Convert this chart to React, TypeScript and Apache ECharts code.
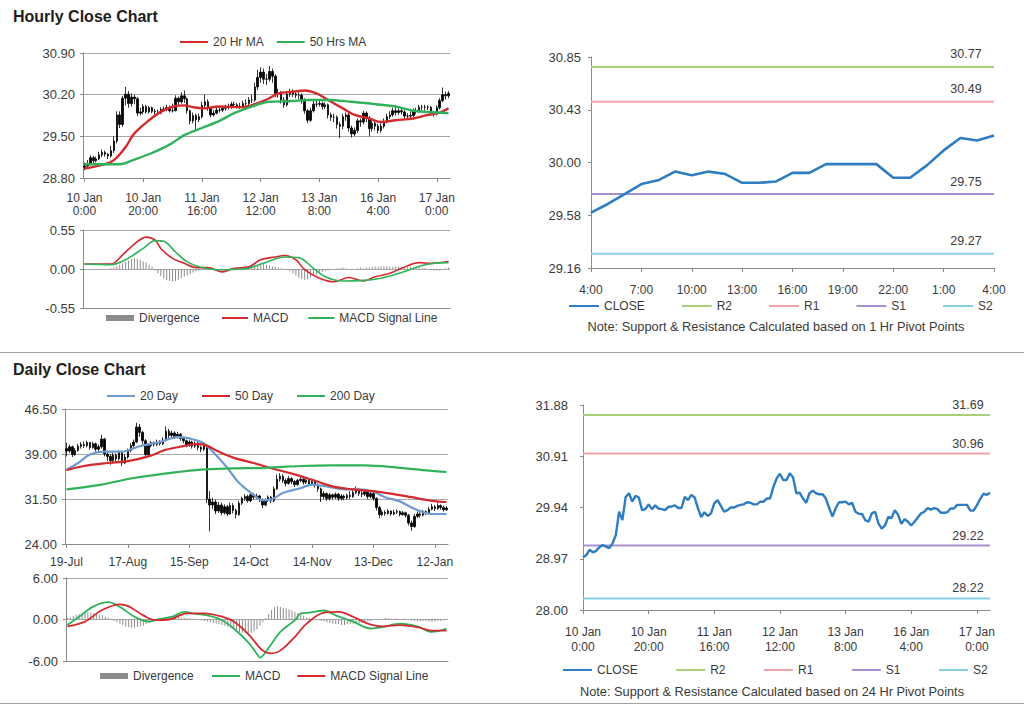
import React, { useEffect, useRef } from "react";
import * as echarts from "echarts";

// ---------------- HOURLY DATA (10 Jan 0:00 .. 17 Jan 4:00, 125 hours) ----------------
const hourlyTickLabels = ["10 Jan\n0:00", "10 Jan\n20:00", "11 Jan\n16:00", "12 Jan\n12:00", "13 Jan\n8:00", "16 Jan\n4:00", "17 Jan\n0:00"];

const hourlyOpen = [
  28.98, 29.00, 29.04, 29.14, 29.09, 29.12, 29.19, 29.23, 29.20, 29.17,
  29.26, 29.42, 29.86, 29.70, 30.14, 30.21, 30.05, 30.16, 30.13, 29.89,
  29.91, 30.00, 29.91, 29.98, 29.92, 29.91, 29.89, 29.95, 29.96, 29.98,
  29.93, 29.93, 30.14, 30.08, 30.18, 30.13, 29.93, 29.76, 29.85, 29.78,
  29.83, 30.02, 30.08, 29.97, 29.86, 29.89, 29.94, 29.94, 29.97, 29.99,
  30.00, 30.04, 30.03, 30.00, 30.00, 30.05, 30.05, 30.11, 30.11, 30.33,
  30.49, 30.58, 30.46, 30.46, 30.59, 30.51, 30.21, 30.22, 30.11, 30.03,
  30.21, 30.26, 30.21, 30.19, 30.19, 30.11, 29.93, 29.77, 29.93, 30.04,
  30.04, 30.05, 30.00, 30.03, 29.86, 29.82, 29.82, 29.70, 29.67, 29.83,
  29.86, 29.64, 29.54, 29.60, 29.76, 29.74, 29.89, 29.80, 29.63, 29.72,
  29.67, 29.60, 29.67, 29.75, 29.83, 29.86, 29.93, 29.90, 29.93, 29.91,
  29.84, 29.84, 29.85, 29.92, 29.92, 29.99, 29.99, 29.99, 29.99, 29.88,
  29.88, 29.98, 30.10, 30.20, 30.18,
];
const hourlyClose = [
  29.00, 29.04, 29.14, 29.09, 29.12, 29.19, 29.23, 29.20, 29.17, 29.26,
  29.42, 29.86, 29.70, 30.14, 30.21, 30.05, 30.16, 30.13, 29.89, 29.91,
  30.00, 29.91, 29.98, 29.92, 29.91, 29.89, 29.95, 29.96, 29.98, 29.93,
  29.93, 30.14, 30.08, 30.18, 30.13, 29.93, 29.76, 29.85, 29.78, 29.83,
  30.02, 30.08, 29.97, 29.86, 29.89, 29.94, 29.94, 29.97, 29.99, 30.00,
  30.04, 30.03, 30.00, 30.00, 30.05, 30.05, 30.11, 30.11, 30.33, 30.49,
  30.58, 30.46, 30.46, 30.59, 30.51, 30.21, 30.22, 30.11, 30.03, 30.21,
  30.26, 30.21, 30.19, 30.19, 30.11, 29.93, 29.77, 29.93, 30.04, 30.04,
  30.05, 30.00, 30.03, 29.86, 29.82, 29.82, 29.70, 29.67, 29.83, 29.86,
  29.64, 29.54, 29.60, 29.76, 29.74, 29.89, 29.80, 29.63, 29.72, 29.67,
  29.60, 29.67, 29.75, 29.83, 29.86, 29.93, 29.90, 29.93, 29.91, 29.84,
  29.84, 29.85, 29.92, 29.92, 29.99, 29.99, 29.99, 29.99, 29.88, 29.88,
  29.98, 30.10, 30.20, 30.18, 30.22,
];
const hourlyLow = [
  28.93, 28.97, 29.01, 29.05, 29.06, 29.10, 29.15, 29.16, 29.12, 29.14,
  29.22, 29.38, 29.64, 29.66, 30.02, 29.98, 30.00, 30.04, 29.84, 29.85,
  29.87, 29.88, 29.88, 29.89, 29.87, 29.86, 29.87, 29.91, 29.92, 29.90,
  29.90, 29.92, 30.02, 30.05, 30.06, 29.88, 29.70, 29.72, 29.60, 29.74,
  29.80, 29.98, 29.93, 29.82, 29.83, 29.87, 29.90, 29.91, 29.93, 29.95,
  29.96, 29.98, 29.97, 29.96, 29.97, 30.01, 30.02, 30.06, 30.08, 30.28,
  30.40, 30.38, 30.36, 30.42, 30.40, 30.16, 30.15, 30.05, 29.98, 30.00,
  30.16, 30.16, 30.14, 30.12, 30.05, 29.88, 29.72, 29.74, 29.90, 29.99,
  30.00, 29.95, 29.96, 29.80, 29.76, 29.74, 29.63, 29.47, 29.62, 29.76,
  29.58, 29.48, 29.50, 29.56, 29.66, 29.70, 29.74, 29.50, 29.58, 29.60,
  29.55, 29.56, 29.63, 29.72, 29.79, 29.83, 29.85, 29.86, 29.87, 29.80,
  29.79, 29.80, 29.82, 29.87, 29.89, 29.94, 29.93, 29.94, 29.84, 29.83,
  29.85, 29.95, 30.07, 30.12, 30.14,
];
const hourlyHigh = [
  29.06, 29.10, 29.18, 29.17, 29.16, 29.24, 29.28, 29.26, 29.22, 29.34,
  29.50, 29.92, 29.92, 30.18, 30.33, 30.26, 30.22, 30.20, 30.16, 29.98,
  30.04, 30.03, 30.01, 30.00, 29.96, 29.95, 29.99, 30.00, 30.03, 30.02,
  30.05, 30.19, 30.17, 30.24, 30.27, 30.15, 29.95, 29.90, 29.88, 29.88,
  30.08, 30.20, 30.12, 29.99, 29.94, 29.98, 29.99, 30.01, 30.03, 30.05,
  30.08, 30.08, 30.06, 30.06, 30.10, 30.12, 30.16, 30.20, 30.40, 30.62,
  30.66, 30.64, 30.55, 30.68, 30.64, 30.54, 30.30, 30.26, 30.16, 30.26,
  30.30, 30.29, 30.25, 30.24, 30.22, 30.14, 29.96, 29.98, 30.09, 30.10,
  30.10, 30.08, 30.07, 30.05, 29.90, 29.88, 29.85, 29.74, 29.88, 29.90,
  29.89, 29.68, 29.65, 29.80, 29.80, 29.93, 29.92, 29.84, 29.77, 29.76,
  29.71, 29.72, 29.80, 29.88, 29.92, 29.98, 30.03, 29.97, 29.96, 29.94,
  29.89, 29.92, 29.97, 29.98, 30.03, 30.03, 30.03, 30.02, 30.01, 29.93,
  30.02, 30.14, 30.32, 30.25, 30.26,
];
// moving averages and MACD: [hour index, value] key points
const hourlyMa20 = [[0, 28.96], [6, 29.02], [10, 29.10], [14, 29.32], [17, 29.55], [22, 29.77], [26, 29.91], [31, 30.01], [34, 30.02], [37, 29.99], [40, 29.97], [46, 30.00], [54, 29.99], [58, 30.04], [63, 30.14], [66, 30.22], [71, 30.25], [75, 30.27], [79, 30.22], [83, 30.11], [88, 29.97], [92, 29.86], [97, 29.80], [101, 29.74], [106, 29.77], [112, 29.80], [117, 29.86], [121, 29.90], [124, 29.97]];
const hourlyMa50 = [[0, 29.03], [12, 29.03], [17, 29.11], [23, 29.22], [29, 29.36], [34, 29.52], [40, 29.64], [46, 29.76], [51, 29.89], [57, 30.00], [63, 30.08], [70, 30.09], [76, 30.11], [83, 30.11], [91, 30.08], [99, 30.04], [106, 30.00], [112, 29.93], [117, 29.91], [124, 29.89]];
const hourlyMacd = [[0, 0.07], [9, 0.07], [13, 0.20], [17, 0.35], [21, 0.45], [24, 0.41], [26, 0.29], [30, 0.15], [34, 0.08], [38, 0.02], [42, 0.02], [47, -0.04], [51, 0.01], [56, 0.03], [60, 0.13], [65, 0.17], [68, 0.19], [72, 0.13], [75, -0.01], [80, -0.13], [85, -0.18], [90, -0.12], [95, -0.17], [99, -0.11], [104, -0.06], [108, 0.01], [114, 0.09], [118, 0.08], [124, 0.11]];
const hourlySignal = [[0, 0.07], [9, 0.06], [14, 0.13], [20, 0.29], [24, 0.40], [27, 0.39], [31, 0.24], [35, 0.10], [40, 0.02], [45, -0.01], [54, 0.00], [61, 0.08], [68, 0.17], [73, 0.16], [78, 0.01], [82, -0.11], [88, -0.17], [95, -0.16], [101, -0.13], [108, -0.05], [115, 0.05], [119, 0.08], [124, 0.09]];
const hourlyDivergence = [
  0, 0, 0, 0, 0, 0, 0, 0, 0, 0.01, 0.02,
  0.04, 0.06, 0.08, 0.10, 0.12, 0.14, 0.15, 0.14, 0.13, 0.11, 0.09, 0.06, 0.03,
  -0.02, -0.06, -0.10, -0.13, -0.16, -0.17, -0.18, -0.17, -0.15, -0.13, -0.11, -0.09, -0.07, -0.05, -0.03, -0.02,
  0.01, 0.01, 0.01, 0.01, 0.00, -0.01, -0.01, -0.02, -0.01, 0.00, 0.01, 0.01, 0.01, 0.02, 0.02, 0.02, 0.03,
  0.04, 0.05, 0.06, 0.07, 0.07, 0.06, 0.05, 0.04, 0.03, 0.02, 0.01, 0.00, -0.01, -0.03,
  -0.06, -0.09, -0.12, -0.14, -0.15, -0.14, -0.12, -0.10, -0.08, -0.06, -0.04, -0.03, -0.02, -0.01,
  0.00, 0.01, 0.01, 0.02, 0.01, 0.00, -0.01, 0.00, 0.01, 0.02, 0.01,
  0.02, 0.02, 0.03, 0.03, 0.03, 0.04, 0.04, 0.04, 0.03, 0.03, 0.04, 0.04, 0.03, 0.03, 0.03, 0.03, 0.02, 0.02, 0.02, 0.01, 0.01, 0.00,
  -0.01, -0.02, -0.02, -0.02, -0.01, 0.01, 0.02,
];

// last 25 hours (top right pivot chart)
const pivotHourLabels = ["4:00", "5:00", "6:00", "7:00", "8:00", "9:00", "10:00", "11:00", "12:00", "13:00", "14:00", "15:00", "16:00", "17:00", "18:00", "19:00", "20:00", "21:00", "22:00", "23:00", "0:00", "1:00", "2:00", "3:00", "4:00"];
const pivotNames = ["R2", "R1", "S1", "S2"];
const pivotColors = ["#a9cf7c", "#f1a3a8", "#a690d0", "#86cde6"];
const hourPivotValues = [30.77, 30.49, 29.75, 29.27];
const dayPivotValues = [31.69, 30.96, 29.22, 28.22];

// ---------------- DAILY DATA (19-Jul .. 17-Jan, 131 sessions) ----------------
const dailyTickLabels = ["19-Jul", "17-Aug", "15-Sep", "14-Oct", "14-Nov", "13-Dec", "12-Jan"];
const dailyOpen = [
  39.9, 39.5, 40.2, 38.9, 39.6, 40.3, 40.6, 40.4, 40.9, 40.1,
  40.7, 39.8, 40.2, 41.5, 39.0, 38.6, 37.9, 38.8, 38.2, 39.3,
  37.5, 38.5, 39.6, 40.4, 41.0, 43.5, 42.6, 41.2, 38.9, 40.4,
  40.9, 40.6, 41.0, 40.7, 41.3, 42.8, 42.1, 42.5, 41.9, 42.3,
  41.6, 41.2, 40.5, 41.0, 40.3, 40.8, 40.1, 39.8, 40.0, 31.5,
  30.5, 31.0, 29.5, 30.5, 29.2, 30.2, 29.0, 30.4, 29.6, 28.9,
  30.8, 31.6, 31.9, 31.2, 32.2, 31.8, 32.0, 31.4, 30.5, 31.3,
  31.8, 31.2, 33.2, 34.8, 35.3, 34.6, 34.1, 34.9, 34.4, 33.9,
  34.6, 34.8, 34.3, 34.6, 34.0, 34.4, 33.9, 33.2, 31.9, 32.4,
  31.6, 32.2, 31.8, 32.3, 31.6, 32.0, 31.7, 32.1, 31.9, 32.6,
  33.1, 32.4, 32.3, 32.7, 31.9, 32.4, 31.6, 30.1, 28.9, 29.3,
  29.1, 29.5, 29.0, 29.3, 29.4, 28.9, 29.2, 28.8, 27.5, 26.9,
  28.6, 29.0, 28.8, 29.4, 29.2, 29.8, 30.2, 29.9, 30.4, 30.1, 29.7,
];
const dailyClose = [
  39.5, 40.2, 38.9, 39.6, 40.3, 40.6, 40.4, 40.9, 40.1, 40.7,
  39.8, 40.2, 41.5, 39.0, 38.6, 37.9, 38.8, 38.2, 39.3, 37.5,
  38.5, 39.6, 40.4, 41.0, 43.5, 42.6, 41.2, 38.9, 40.4, 40.9,
  40.6, 41.0, 40.7, 41.3, 42.8, 42.1, 42.5, 41.9, 42.3, 41.6,
  41.2, 40.5, 41.0, 40.3, 40.8, 40.1, 39.8, 40.3, 31.5, 30.5,
  31.0, 29.5, 30.5, 29.2, 30.2, 29.0, 30.4, 29.6, 28.9, 30.8,
  31.6, 31.9, 31.2, 32.2, 31.8, 32.0, 31.4, 30.5, 31.3, 31.8,
  31.2, 33.2, 34.8, 35.3, 34.6, 34.1, 34.9, 34.4, 33.9, 34.6,
  34.8, 34.3, 34.6, 34.0, 34.4, 33.9, 33.2, 31.9, 32.4, 31.6,
  32.2, 31.8, 32.3, 31.6, 32.0, 31.7, 32.1, 31.9, 32.6, 33.1,
  32.4, 32.3, 32.7, 31.9, 32.4, 31.6, 30.1, 28.9, 29.3, 29.1,
  29.5, 29.0, 29.3, 29.4, 28.9, 29.2, 28.8, 27.5, 26.9, 28.6,
  29.0, 28.8, 29.4, 29.2, 29.8, 30.2, 29.9, 30.4, 30.1, 29.7, 30.0,
];
const dailyLow = [
  38.6, 39.2, 38.5, 38.7, 39.4, 39.9, 40.0, 40.1, 39.7, 39.9,
  39.4, 39.3, 39.9, 38.6, 37.8, 37.2, 37.4, 37.6, 37.9, 37.0,
  37.3, 38.2, 39.3, 40.0, 40.8, 41.9, 40.6, 38.3, 38.7, 40.1,
  40.2, 40.3, 40.4, 40.5, 41.1, 41.6, 41.8, 41.5, 41.6, 41.2,
  40.8, 40.1, 40.2, 39.9, 40.0, 39.6, 39.3, 39.5, 30.8, 26.1,
  29.8, 29.0, 29.2, 28.8, 28.9, 28.7, 28.9, 29.1, 28.3, 28.7,
  30.5, 31.2, 30.9, 31.0, 31.4, 31.5, 31.0, 30.0, 30.3, 31.0,
  30.8, 31.0, 33.0, 34.4, 34.2, 33.6, 33.9, 34.0, 33.5, 33.7,
  34.3, 33.9, 34.0, 33.6, 33.7, 33.4, 32.7, 31.0, 31.5, 31.2,
  31.3, 31.4, 31.5, 31.2, 31.3, 31.3, 31.4, 31.5, 31.7, 32.3,
  32.0, 31.8, 32.0, 31.5, 31.6, 31.2, 29.6, 28.3, 28.6, 28.7,
  28.9, 28.7, 28.8, 29.0, 28.6, 28.7, 28.4, 27.1, 26.2, 26.7,
  28.3, 28.4, 28.6, 28.8, 29.0, 29.6, 29.5, 29.7, 29.7, 29.4, 29.5,
];
const dailyHigh = [
  40.9, 40.6, 40.4, 40.0, 40.7, 41.0, 41.1, 41.2, 41.0, 41.0,
  40.9, 40.6, 42.2, 41.7, 39.4, 39.0, 39.2, 39.1, 39.6, 39.4,
  39.0, 39.9, 40.8, 41.4, 44.2, 44.0, 42.9, 41.5, 40.8, 41.2,
  41.1, 41.4, 41.3, 41.8, 43.6, 43.2, 42.9, 42.8, 42.7, 42.5,
  41.9, 41.4, 41.3, 41.2, 41.1, 41.0, 40.4, 40.6, 40.2, 32.8,
  31.7, 31.4, 31.0, 30.9, 30.6, 30.5, 30.9, 30.8, 29.9, 31.2,
  31.9, 32.3, 32.2, 32.6, 32.5, 32.4, 32.2, 31.6, 31.6, 32.1,
  32.0, 33.6, 35.6, 35.8, 35.6, 34.9, 35.3, 35.1, 34.7, 34.9,
  35.2, 35.0, 34.9, 34.8, 34.7, 34.6, 34.1, 33.4, 32.8, 32.6,
  32.5, 32.4, 32.6, 32.5, 32.3, 32.2, 32.4, 32.8, 33.2, 33.6,
  33.3, 32.8, 33.0, 32.9, 32.7, 32.6, 31.8, 30.3, 29.7, 29.6,
  29.8, 29.6, 29.7, 29.8, 29.6, 29.5, 29.4, 29.0, 27.9, 29.0,
  29.4, 29.3, 29.7, 29.6, 30.2, 30.7, 30.5, 30.8, 30.6, 30.4, 30.3,
];
const dailyMa20 = [[0, 36.4], [4, 37.5], [8, 38.9], [13, 39.4], [19, 39.4], [25, 40.3], [32, 41.0], [38, 41.8], [42, 41.6], [47, 40.8], [50, 39.4], [55, 36.7], [59, 34.2], [64, 32.2], [67, 31.3], [70, 31.4], [74, 32.5], [80, 33.3], [84, 33.9], [89, 33.6], [95, 33.1], [100, 33.1], [105, 32.7], [109, 31.8], [114, 31.1], [118, 30.1], [122, 29.3], [125, 29.0], [130, 29.0]];
const dailyMa50 = [[0, 36.3], [6, 37.0], [14, 37.5], [21, 37.8], [28, 38.6], [34, 39.7], [40, 40.3], [45, 40.7], [48, 40.4], [52, 39.4], [57, 38.4], [64, 37.5], [71, 36.5], [78, 35.6], [84, 34.7], [91, 33.6], [98, 33.1], [105, 32.8], [112, 32.3], [118, 31.8], [125, 31.2], [130, 31.0]];
const dailyMa200 = [[0, 33.1], [12, 33.9], [23, 35.0], [35, 35.8], [46, 36.4], [57, 36.6], [68, 36.7], [80, 37.0], [91, 37.1], [102, 37.1], [114, 36.7], [125, 36.2], [130, 36.0]];
const dailyMacd = [[0, -0.8], [4, 0.4], [9, 1.9], [14, 2.5], [18, 1.8], [23, 0.4], [28, -0.3], [31, 0.0], [36, 0.4], [40, 1.1], [44, 0.8], [48, 0.6], [53, -0.1], [57, -1.3], [62, -3.3], [65, -5.0], [66, -5.5], [69, -4.1], [73, -1.8], [78, -0.1], [80, 0.9], [83, 1.0], [88, 1.3], [92, 0.6], [98, -0.3], [104, -1.3], [108, -1.1], [114, -0.6], [120, -1.0], [125, -1.8], [130, -1.3]];
const dailySignal = [[0, -1.0], [6, -0.3], [12, 1.4], [18, 2.2], [21, 1.9], [26, 0.6], [30, -0.1], [35, 0.0], [41, 0.9], [47, 0.9], [53, 0.4], [57, -0.3], [62, -2.1], [67, -4.5], [70, -4.9], [73, -4.5], [78, -2.5], [82, -0.6], [88, 1.0], [93, 1.1], [98, 0.4], [103, -0.6], [108, -1.0], [114, -0.8], [120, -1.1], [125, -1.6], [130, -1.6]];
const dailyDivergence = [
  0.2, 0.3,
  0.5, 0.7, 0.8, 0.9, 1.0, 1.0, 1.0, 0.9, 0.8, 0.7, 0.6, 0.4, 0.3, 0.1,
  -0.2, -0.4, -0.6, -0.8, -1.0, -1.1, -1.2, -1.2, -1.1, -1.0, -0.9, -0.7, -0.5, -0.3, -0.2, -0.1,
  0.1, 0.2, 0.3, 0.3, 0.4, 0.4, 0.4, 0.3, 0.3, 0.2, 0.2, 0.1, 0.1, 0.0, -0.1,
  -0.2, -0.3, -0.4, -0.5, -0.6, -0.7, -0.8, -0.9, -1.0, -1.2, -1.4, -1.6, -1.8, -1.9, -2.0, -2.0, -1.9, -1.7, -1.4, -0.9, -0.4, 0.2,
  0.8, 1.4, 1.8, 1.9, 1.8, 1.7, 1.6, 1.5, 1.3, 1.1, 0.9, 0.7, 0.5, 0.3, 0.2, 0.1, 0.0,
  -0.1, -0.2, -0.3, -0.4, -0.5, -0.6, -0.7, -0.7, -0.8, -0.8, -0.7, -0.7, -0.6, -0.6, -0.5, -0.5, -0.4, -0.3, -0.2, -0.1, 0.0,
  0.1, 0.1, 0.2, 0.2, 0.1, 0.1, 0.1, 0.0, 0.1, 0.1, 0.0, -0.1, -0.2, -0.3, -0.3, -0.2, -0.2, -0.3, -0.4, -0.3, -0.2, -0.2, -0.1, 0.0,
];

// ---------------- STYLE ----------------
const FONT = "'Liberation Sans', Arial, Helvetica, sans-serif";
const AXIS = "#8a8a8a";
const GRIDC = "#a8a8a8";
const TXT = "#3a3a3a";
const RED = "#d42a2e";
const GREEN = "#2fb25a";
const BLUE_MA = "#6f9bd2";
const CLOSE_BLUE = "#2e7dc0";
const DIV_GRAY = "#8c8c8c";

function catAxis(gridIndex: number, count: number, every: number, labels: string[], o: any = {}) {
  return {
    type: "category",
    gridIndex,
    data: Array.from({ length: count }, (_, i) => String(i)),
    boundaryGap: o.boundaryGap ?? true,
    axisLine: { show: true, onZero: false, lineStyle: { color: AXIS } },
    axisTick: { show: o.showLabels !== false, interval: every - 1, alignWithLabel: true, length: 4, lineStyle: { color: AXIS } },
    axisLabel: {
      show: o.showLabels !== false,
      interval: every - 1,
      margin: o.margin ?? 12,
      color: TXT,
      fontFamily: FONT,
      fontSize: 12,
      lineHeight: o.lineHeight ?? 13,
      formatter: (v: string) => {
        const i = Number(v);
        return i % every === 0 ? labels[i / every] ?? "" : "";
      },
    },
    splitLine: { show: false },
  };
}

function valAxis(gridIndex: number, min: number, max: number, interval: number, o: any = {}) {
  return {
    type: "value",
    gridIndex,
    min,
    max,
    interval,
    axisLine: { show: true, lineStyle: { color: AXIS } },
    axisTick: { show: true, length: 3, lineStyle: { color: AXIS } },
    axisLabel: {
      color: TXT,
      fontFamily: FONT,
      fontSize: 13,
      margin: o.margin ?? 8,
      formatter: (v: number) => v.toFixed(2),
    },
    splitLine: { show: o.split !== false, lineStyle: { color: GRIDC, width: 1 } },
  };
}

function line(name: string, x: number, data: any[], color: string, width: number, smooth: any = 0.35) {
  return {
    name,
    type: "line",
    xAxisIndex: x,
    yAxisIndex: x,
    data,
    smooth,
    symbol: "none",
    lineStyle: { color, width },
    itemStyle: { color },
    silent: true,
  };
}

function pivotSeries(name: string, x: number, lastIdx: number, value: number, color: string, offset: number[]) {
  return {
    name,
    type: "line",
    xAxisIndex: x,
    yAxisIndex: x,
    symbol: "circle",
    symbolSize: 0,
    showSymbol: true,
    lineStyle: { color, width: 2 },
    itemStyle: { color },
    silent: true,
    data: [
      [0, value],
      {
        value: [lastIdx, value],
        label: {
          show: true,
          position: "top",
          offset,
          formatter: value.toFixed(2),
          color: TXT,
          fontFamily: FONT,
          fontSize: 12.5,
        },
      },
    ],
  };
}

function legend(left: number, top: number, data: string[], gap: number, w: number, h: number) {
  return {
    left,
    top,
    data,
    itemGap: gap,
    itemWidth: w,
    itemHeight: h,
    icon: "rect",
    padding: 0,
    selectedMode: false,
    itemStyle: { borderWidth: 0 },
    textStyle: { color: TXT, fontFamily: FONT, fontSize: 12 },
    formatter: (n: string) => n.trim(),
  };
}

function buildOption() {
  const hourlyCandles = hourlyClose.map((c, i) => [hourlyOpen[i], c, hourlyLow[i], hourlyHigh[i]]);
  const dailyCandles = dailyClose.map((c, i) => [dailyOpen[i], c, dailyLow[i], dailyHigh[i]]);
  const pivotClose = hourlyClose.slice(hourlyClose.length - pivotHourLabels.length);
  const nH = hourlyClose.length;
  const nD = dailyClose.length;

  const candleStyle = { color: "#000", color0: "#000", borderColor: "#000", borderColor0: "#000", borderWidth: 0.8 };

  const series: any[] = [
    // hourly candles + MAs (grid 0)
    { name: "Hourly", type: "candlestick", xAxisIndex: 0, yAxisIndex: 0, data: hourlyCandles, barWidth: 2, itemStyle: candleStyle, silent: true },
    line("20 Hr MA", 0, hourlyMa20, RED, 2.4),
    line("50 Hrs MA", 0, hourlyMa50, GREEN, 2.4),
    // hourly MACD (grid 1)
    { name: "Divergence", type: "bar", xAxisIndex: 1, yAxisIndex: 1, data: hourlyDivergence, barWidth: 1, itemStyle: { color: DIV_GRAY }, silent: true },
    line("MACD", 1, hourlyMacd, RED, 1.6),
    line("MACD Signal Line", 1, hourlySignal, GREEN, 1.6),
    // top right pivot chart (grid 2)
    ...pivotNames.map((n, k) => pivotSeries(n, 2, pivotHourLabels.length - 1, hourPivotValues[k], pivotColors[k], [-28, -1])),
    { name: "CLOSE", type: "line", xAxisIndex: 2, yAxisIndex: 2, data: pivotClose, symbol: "none", lineStyle: { color: CLOSE_BLUE, width: 2.6 }, itemStyle: { color: CLOSE_BLUE }, silent: true },
    // daily candles + MAs (grid 3)
    { name: "Daily", type: "candlestick", xAxisIndex: 3, yAxisIndex: 3, data: dailyCandles, barWidth: 2, itemStyle: candleStyle, silent: true },
    line("20 Day", 3, dailyMa20, BLUE_MA, 2.2),
    line("50 Day", 3, dailyMa50, RED, 2.2),
    line("200 Day", 3, dailyMa200, GREEN, 2.2),
    // daily MACD (grid 4)
    { name: "Divergence ", type: "bar", xAxisIndex: 4, yAxisIndex: 4, data: dailyDivergence, barWidth: 1, itemStyle: { color: DIV_GRAY }, silent: true },
    line("MACD ", 4, dailyMacd, GREEN, 1.8),
    line("MACD Signal Line ", 4, dailySignal, RED, 1.8),
    // bottom right pivot chart (grid 5)
    ...pivotNames.map((n, k) => pivotSeries(n + " ", 5, nH - 1, dayPivotValues[k], pivotColors[k], [-22, 1.5])),
    { name: "CLOSE ", type: "line", xAxisIndex: 5, yAxisIndex: 5, data: hourlyClose, symbol: "none", lineStyle: { color: CLOSE_BLUE, width: 2.4 }, itemStyle: { color: CLOSE_BLUE }, silent: true },
  ];

  return {
    animation: false,
    backgroundColor: "#ffffff",
    textStyle: { fontFamily: FONT },
    grid: [
      { left: 83, top: 53, width: 367, height: 125, outerBoundsMode: "none" },
      { left: 83, top: 230, width: 367, height: 78, outerBoundsMode: "none" },
      { left: 591, top: 57, width: 403, height: 211, outerBoundsMode: "none" },
      { left: 65, top: 409, width: 383, height: 135, outerBoundsMode: "none" },
      { left: 66, top: 578, width: 382, height: 83, outerBoundsMode: "none" },
      { left: 583, top: 405, width: 407, height: 205, outerBoundsMode: "none" },
    ],
    xAxis: [
      catAxis(0, nH, 20, hourlyTickLabels, { margin: 13, lineHeight: 13 }),
      catAxis(1, nH, 20, hourlyTickLabels, { showLabels: false }),
      catAxis(2, pivotHourLabels.length, 3, pivotHourLabels.filter((_, i) => i % 3 === 0), { boundaryGap: false, margin: 15 }),
      catAxis(3, nD, 21, dailyTickLabels, { margin: 11 }),
      catAxis(4, nD, 21, dailyTickLabels, { showLabels: false }),
      catAxis(5, nH, 20, hourlyTickLabels, { boundaryGap: false, margin: 15, lineHeight: 14.6 }),
    ],
    yAxis: [
      valAxis(0, 28.8, 30.9, 0.7),
      valAxis(1, -0.55, 0.55, 0.55),
      valAxis(2, 29.156, 30.85, 0.4235, { split: false, margin: 10 }),
      valAxis(3, 24, 46.5, 7.5),
      valAxis(4, -6, 6, 6),
      valAxis(5, 28, 31.88, 0.97, { split: false, margin: 15 }),
    ],
    legend: [
      legend(180, 36, ["20 Hr MA", "50 Hrs MA"], 13, 28, 2),
      legend(106, 312, ["Divergence"], 10, 28, 6),
      legend(222, 312, ["MACD", "MACD Signal Line"], 20, 26, 2),
      legend(569, 300, ["CLOSE", "R2", "R1", "S1", "S2"], 37, 30, 2),
      legend(107, 390, ["20 Day", "50 Day", "200 Day"], 24, 28, 2),
      legend(100, 670, ["Divergence "], 10, 28, 6),
      legend(212, 670, ["MACD ", "MACD Signal Line "], 17, 28, 2),
      legend(563, 664, ["CLOSE ", "R2 ", "R1 ", "S1 ", "S2 "], 38.5, 29, 2),
    ],
    graphic: [
      { type: "text", x: 13, y: 16, style: { text: "Hourly Close Chart", font: `bold 16px ${FONT}`, fill: "#1e1e1e", verticalAlign: "middle" } },
      { type: "text", x: 13, y: 369, style: { text: "Daily Close Chart", font: `bold 16px ${FONT}`, fill: "#1e1e1e", verticalAlign: "middle" } },
      { type: "text", x: 776, y: 326, style: { text: "Note: Support & Resistance Calculated based on 1 Hr Pivot Points", font: `12.8px ${FONT}`, fill: TXT, align: "center", verticalAlign: "middle" } },
      { type: "text", x: 772, y: 691, style: { text: "Note: Support & Resistance Calculated based on 24 Hr Pivot Points", font: `12.8px ${FONT}`, fill: TXT, align: "center", verticalAlign: "middle" } },
      { type: "line", shape: { x1: 0, y1: 352.5, x2: 1024, y2: 352.5 }, style: { stroke: "#a0a0a0", lineWidth: 1 } },
      { type: "line", shape: { x1: 0, y1: 703.5, x2: 1024, y2: 703.5 }, style: { stroke: "#a0a0a0", lineWidth: 1 } },
    ],
    series,
  };
}

export default function App() {
  const ref = useRef<HTMLDivElement>(null);
  useEffect(() => {
    if (!ref.current) return;
    const chart = echarts.init(ref.current, null, { renderer: "svg" });
    chart.setOption(buildOption() as any);
    return () => chart.dispose();
  }, []);
  return (
    <div
      ref={ref}
      style={{ position: "absolute", left: 0, top: 0, width: 1024, height: 706, background: "#fff" }}
    />
  );
}
